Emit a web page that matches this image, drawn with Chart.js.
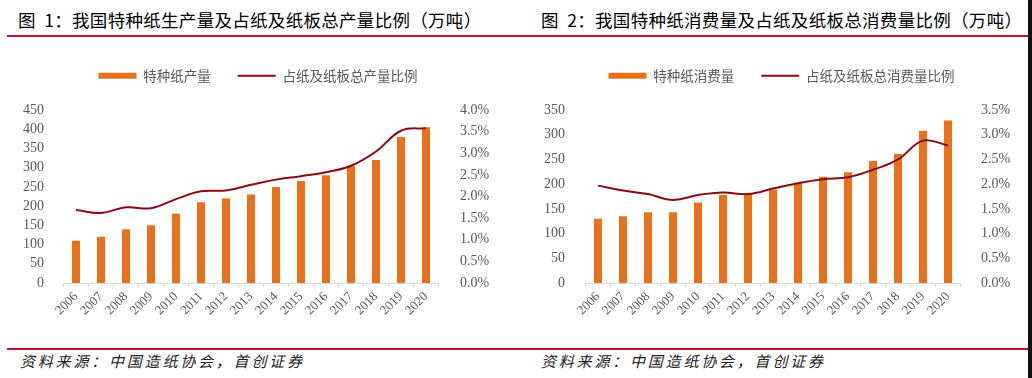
<!DOCTYPE html>
<html lang="zh">
<head>
<meta charset="utf-8">
<script src="https://cdn.jsdelivr.net/npm/chart.js@4.4.1/dist/chart.umd.min.js"></script>
<style>
  body { margin: 0; width: 1032px; height: 378px; background: #fff; position: relative; overflow: hidden; font-family: "Noto Sans CJK SC", sans-serif; }
  .title { position: absolute; top: 8px; font-size: 17.5px; font-weight: 400; color: #000; white-space: nowrap; line-height: 24px; letter-spacing: 0.3px; }
  .rule { position: absolute; left: 7px; width: 1021px; height: 2px; background: #c0142c; }
  .source { position: absolute; top: 350px; font-size: 15px; font-style: italic; letter-spacing: 2.8px; color: #222; white-space: nowrap; line-height: 22px; }
  .box { position: absolute; top: 42px; width: 516px; height: 289px; }
  #edge { position: absolute; right: 0; top: 0; width: 4px; height: 378px; background: #111; }
</style>
</head>
<body>
<div class="title" style="left:18px">图&nbsp; 1：我国特种纸生产量及占纸及纸板总产量比例（万吨）</div>
<div class="title" style="left:541px">图&nbsp; 2：我国特种纸消费量及占纸及纸板总消费量比例（万吨）</div>
<div class="rule" style="top:35px"></div>
<div class="box" style="left:0"><canvas id="chart1"></canvas></div>
<div class="box" style="left:516px"><canvas id="chart2"></canvas></div>
<div class="rule" style="top:348px"></div>
<div class="source" style="left:20px">资料来源：中国造纸协会，首创证券</div>
<div class="source" style="left:541px">资料来源：中国造纸协会，首创证券</div>
<div id="edge"></div>

<script>
// 数据
const years = ['2006', '2007', '2008', '2009', '2010', '2011', '2012', '2013', '2014', '2015', '2016', '2017', '2018', '2019', '2020'];
const output = [110, 120, 140, 150, 180, 210, 220, 230, 250, 265, 280, 305, 320, 380, 405];
const outputShare = [1.69, 1.62, 1.75, 1.73, 1.94, 2.12, 2.14, 2.27, 2.39, 2.47, 2.56, 2.71, 3.04, 3.52, 3.58];
const consumption = [130, 135, 143, 143, 163, 178, 181, 189, 203, 215, 224, 247, 261, 308, 329];
const consumptionShare = [1.97, 1.87, 1.80, 1.68, 1.78, 1.83, 1.80, 1.91, 2.02, 2.10, 2.14, 2.29, 2.50, 2.88, 2.78];

const BAR = '#e8711c';
const LINE = '#8b0a12';
const AXIS = '#d9d9d9';
const TICK = '#595959';
const serif = size => ({ family: '"Liberation Serif", "Times New Roman", serif', size: size });

// 图例和绘图区之间留出空隙
const legendGap = {
    id: 'legendGap',
    beforeInit(chart) {
        const fit = chart.legend.fit;
        chart.legend.fit = function () {
            fit.bind(chart.legend)();
            this.height += 17.5;
        };
    }
};

function makeChart(id, cfg) {
    return new Chart(document.getElementById(id), {
        data: {
            labels: years,
            datasets: [
                {
                    type: 'bar',
                    label: cfg.barLabel,
                    data: cfg.bars,
                    backgroundColor: BAR,
                    barPercentage: 0.32,
                    categoryPercentage: 1,
                    yAxisID: 'y',
                    order: 1
                },
                {
                    type: 'line',
                    label: cfg.lineLabel,
                    data: cfg.share,
                    borderColor: LINE,
                    borderWidth: 2,
                    pointRadius: 0,
                    tension: 0.4,
                    yAxisID: 'y1',
                    order: 0
                }
            ]
        },
        options: {
            responsive: true,
            maintainAspectRatio: false,
            animation: false,
            layout: { padding: { left: cfg.padLeft, right: 0, top: 0, bottom: 0 } },
            plugins: {
                tooltip: { enabled: false },
                legend: {
                    display: true,
                    labels: {
                        usePointStyle: true,
                        pointStyleWidth: 38,
                        boxHeight: 6,
                        padding: 27,
                        color: TICK,
                        font: { family: '"Noto Sans CJK SC", sans-serif', size: 13.5 },
                        generateLabels: function (chart) {
                            return chart.data.datasets.map(function (ds, i) {
                                const isBar = ds.type === 'bar';
                                return {
                                    text: ds.label,
                                    datasetIndex: i,
                                    fillStyle: isBar ? BAR : 'transparent',
                                    strokeStyle: isBar ? BAR : LINE,
                                    lineWidth: isBar ? 0 : 2,
                                    pointStyle: isBar ? 'rect' : 'line',
                                    fontColor: TICK,
                                    hidden: false
                                };
                            });
                        }
                    }
                }
            },
            scales: {
                x: {
                    grid: { display: true, drawOnChartArea: false, drawTicks: true, tickLength: 4, color: AXIS, offset: true },
                    border: { color: AXIS },
                    ticks: { font: serif(13), color: TICK, minRotation: 45, maxRotation: 45, autoSkip: false, padding: 2 },
                    afterFit(scale) { scale.height = 48; }
                },
                y: {
                    position: 'left',
                    min: 0,
                    max: cfg.yMax,
                    grid: { display: false },
                    border: { display: false },
                    ticks: { stepSize: 50, autoSkip: false, font: serif(14), color: TICK, padding: cfg.padY },
                    afterFit(scale) { scale.width = cfg.wY; }
                },
                y1: {
                    position: 'right',
                    min: 0,
                    max: cfg.pMax,
                    grid: { display: false },
                    border: { display: false },
                    ticks: {
                        stepSize: 0.5,
                        autoSkip: false,
                        font: serif(14),
                        color: TICK,
                        padding: cfg.padY1,
                        callback: v => v.toFixed(1) + '%'
                    },
                    afterFit(scale) { scale.width = cfg.wY1; }
                }
            }
        },
        plugins: [legendGap]
    });
}

makeChart('chart1', {
    barLabel: '特种纸产量',
    lineLabel: '占纸及纸板总产量比例',
    bars: output,
    share: outputShare,
    yMax: 450,
    pMax: 4,
    padLeft: 0,
    wY: 63.5,
    wY1: 77.5,
    padY: 11.5,
    padY1: 13.5
});

makeChart('chart2', {
    barLabel: '特种纸消费量',
    lineLabel: '占纸及纸板总消费量比例',
    bars: consumption,
    share: consumptionShare,
    yMax: 350,
    pMax: 3.5,
    padLeft: 15,
    wY: 54.5,
    wY1: 71.5,
    padY: 12.5,
    padY1: 12.5
});
</script>
</body>
</html>
